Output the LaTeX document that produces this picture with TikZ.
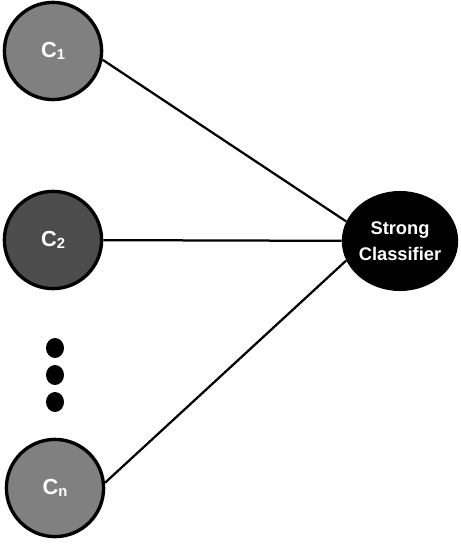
\documentclass[tikz,border=0pt]{standalone}
\usepackage{fontspec}
\setmainfont{Liberation Sans}
\usetikzlibrary{shapes.geometric}

\begin{document}
\begin{tikzpicture}[x=0.025cm,y=-0.025cm]
\tikzstyle{weak}=[draw,shape=circle,line width=2.4pt,minimum size=2.43cm,inner sep=0pt,text=white,font=\fontsize{15.5}{15.5}\selectfont\bfseries]
\tikzstyle{dot}=[fill=black,shape=ellipse,minimum width=0.45cm,minimum height=0.5cm,inner sep=0pt]
\tikzstyle{link}=[line width=1.6pt]
\useasboundingbox (0,0) rectangle (460,550);
\newcommand{\sub}[1]{\raisebox{-1.5pt}{\fontsize{10.5}{10.5}\selectfont #1}}

\path (53,51) node[weak,fill=black!50](c1){C\sub{1}};
\path (53,240) node[weak,fill=black!70](c2){C\sub{2}};
\path (55,488) node[weak,fill=black!50](cn){C\sub{n}};
\path (400,241) node[shape=ellipse,fill=black,minimum width=2.75cm,minimum height=2.5cm,inner sep=0pt,text=white,align=center,font=\fontsize{13}{18.5}\selectfont\bfseries](sc){Strong\\Classifier};

\path (55,348) node[dot](d1){} (55,375) node[dot](d2){} (55,402) node[dot](d3){};

\draw[link] (c1.-10) -- (sc.160);
\draw[link] (c2) -- (sc);
\draw[link] (cn.6) -- (sc.200);
\end{tikzpicture}
\end{document}
